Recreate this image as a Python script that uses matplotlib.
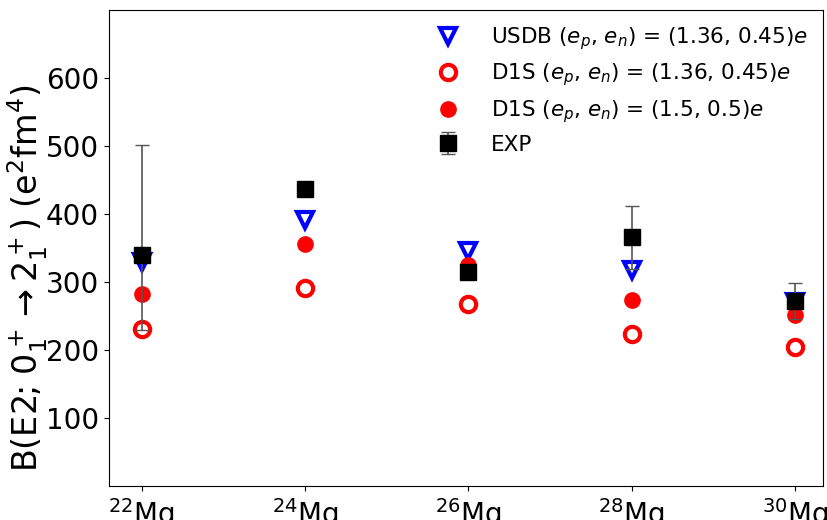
import numpy as np
import matplotlib.pyplot as plt

# Mg 同位素 B(E2) 对比
nuclei = [22, 24, 26, 28, 30]
usdb = [330, 391, 346, 318, 270]
d1s_136 = [231, 291, 267, 223, 205]
d1s_15 = [283, 356, 325, 273, 251]
exp = [340, 437, 314, 366, 272]
exp_err_lo = [110, 10, 10, 47, 26]
exp_err_hi = [161, 10, 10, 46, 27]

x = np.arange(len(nuclei))
labels = [r'$^{%d}$Mg' % a for a in nuclei]

fig = plt.figure(figsize=(8.28, 5.2), dpi=100)
ax = fig.add_axes([0.1316, 0.0654, 0.862, 0.9154])

ax.plot(x, usdb, 'v', ms=12, mfc='none', mec='blue', mew=3,
        ls='none', label=r'USDB ($e_p$, $e_n$) = (1.36, 0.45)$e$')
ax.plot(x, d1s_136, 'o', ms=11, mfc='none', mec='red', mew=3,
        ls='none', label=r'D1S ($e_p$, $e_n$) = (1.36, 0.45)$e$')
ax.plot(x, d1s_15, 'o', ms=11, color='red',
        ls='none', label=r'D1S ($e_p$, $e_n$) = (1.5, 0.5)$e$')
ax.errorbar(x, exp, yerr=[exp_err_lo, exp_err_hi], fmt='s', ms=11,
            color='black', ecolor='#555555', elinewidth=1.2, capsize=5,
            label='EXP')

ax.set_xlim(-0.2, 4.17)
ax.set_ylim(0, 700)
ax.set_yticks([100, 200, 300, 400, 500, 600])
ax.set_xticks(x)
ax.set_xticklabels(labels)
ax.tick_params(axis='both', labelsize=20)
ax.set_ylabel(r'B(E2; $0_1^+ \rightarrow 2_1^+$) (e$^2$fm$^4$)', fontsize=24)
ax.yaxis.set_label_coords(-0.082, 0.437)

ax.legend(loc='upper right', frameon=False, fontsize=15.5, handletextpad=1.0,
          borderaxespad=0.3, labelspacing=0.45)

fig.savefig('out.png', dpi=100)
